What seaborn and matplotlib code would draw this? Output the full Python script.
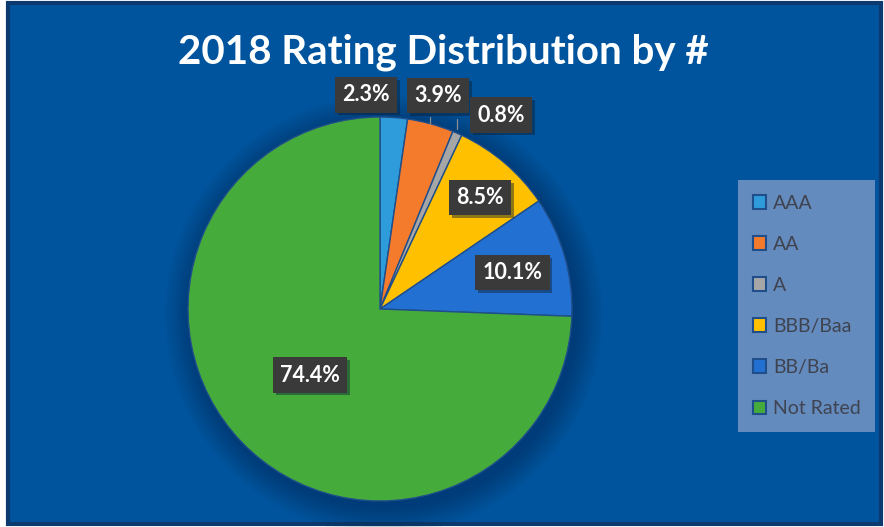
import matplotlib
matplotlib.use("Agg")
import matplotlib.pyplot as plt
import matplotlib.patheffects as pe
import seaborn as sns
from matplotlib.patches import Rectangle, Circle, Patch

# Share of issues by rating bucket
categories = ["AAA", "AA", "A", "BBB/Baa", "BB/Ba", "Not Rated"]
shares = [2.3, 3.9, 0.8, 8.5, 10.1, 74.4]
label_text = ["2.3%", "3.9%", "0.8%", "8.5%", "10.1%", "74.4%"]
title = "2018 Rating Distribution by #"

sns.set_style("white")
palette = sns.color_palette(["#2E9BDB", "#F47A2C", "#A6A6A6", "#FFC000", "#2270D2", "#45AC3C"])
plt.rcParams["font.family"] = ["Lato", "DejaVu Sans"]

W, H = 884, 527
fig = plt.figure(figsize=(W / 100, H / 100), dpi=100, facecolor="white")

# chart panel background with dark frame
bg = fig.add_axes([0, 0, 1, 1])
bg.set_xlim(0, W)
bg.set_ylim(H, 0)
bg.axis("off")
bg.add_patch(Rectangle((8, 3), W - 11, H - 6, facecolor="#00549E",
                       edgecolor="#0D3A6E", linewidth=3))

fig.text(443 / W, 1 - 52 / H, title, ha="center", va="center",
         color="white", fontsize=29, fontweight="bold")

# pie axes: centre (380, 309) px, radius 192 px
cx, cy, r = 380, 309, 192
ax = fig.add_axes([(cx - r) / W, (H - cy - r) / H, 2 * r / W, 2 * r / H])

# soft shadow behind the pie
for k in range(12):
    ax.add_patch(Circle((0.02, -0.03), 1.0 + 0.012 * (12 - k),
                        facecolor="#00224a", alpha=0.04, linewidth=0,
                        clip_on=False))

wedges, _ = ax.pie(shares, colors=palette, startangle=90, counterclock=False,
                   radius=1.0, wedgeprops=dict(edgecolor="#1F4E8A", linewidth=1.0))
ax.set_xlim(-1, 1)
ax.set_ylim(-1, 1)
ax.set_aspect("equal")
ax.axis("off")

# data label placement (axes data units)
label_pos = [(-0.073, 1.115), (0.302, 1.11), (0.63, 1.01),
             (0.52, 0.58), (0.69, 0.19), (-0.365, -0.344)]
# leader lines for the two outside labels that sit beside thin slices
ax.plot([0.26, 0.26], [1.0, 0.965], color="#8C8C8C", lw=0.9, clip_on=False)
ax.plot([0.40, 0.40], [0.99, 0.935], color="#8C8C8C", lw=0.9, clip_on=False)

for txt, (x, y) in zip(label_text, label_pos):
    t = ax.text(x, y, txt, ha="center", va="center", color="white",
                fontsize=15.5, fontweight="bold", clip_on=False,
                bbox=dict(boxstyle="square,pad=0.33", facecolor="#3A3A3A",
                          edgecolor="none"))
    t.get_bbox_patch().set_path_effects(
        [pe.SimplePatchShadow(offset=(2, -2), shadow_rgbFace="#0A1E33", alpha=0.45),
         pe.Normal()])

# legend panel
handles = [Patch(facecolor=c, edgecolor="#1F4E8A", linewidth=1.5) for c in palette]
leg = fig.legend(handles, categories, loc="upper left",
                 bbox_to_anchor=(738 / W, 1 - 180 / H),
                 frameon=True, fancybox=False, fontsize=14,
                 labelcolor="#3F4350", handlelength=0.7, handleheight=0.7,
                 handletextpad=0.35, labelspacing=1.24, borderpad=0.75,
                 borderaxespad=0)
frame = leg.get_frame()
frame.set_facecolor("#7092C2")
frame.set_alpha(0.9)
frame.set_edgecolor("#7092C2")
frame.set_linewidth(0)

fig.savefig("out.png", dpi=100, facecolor="white")
